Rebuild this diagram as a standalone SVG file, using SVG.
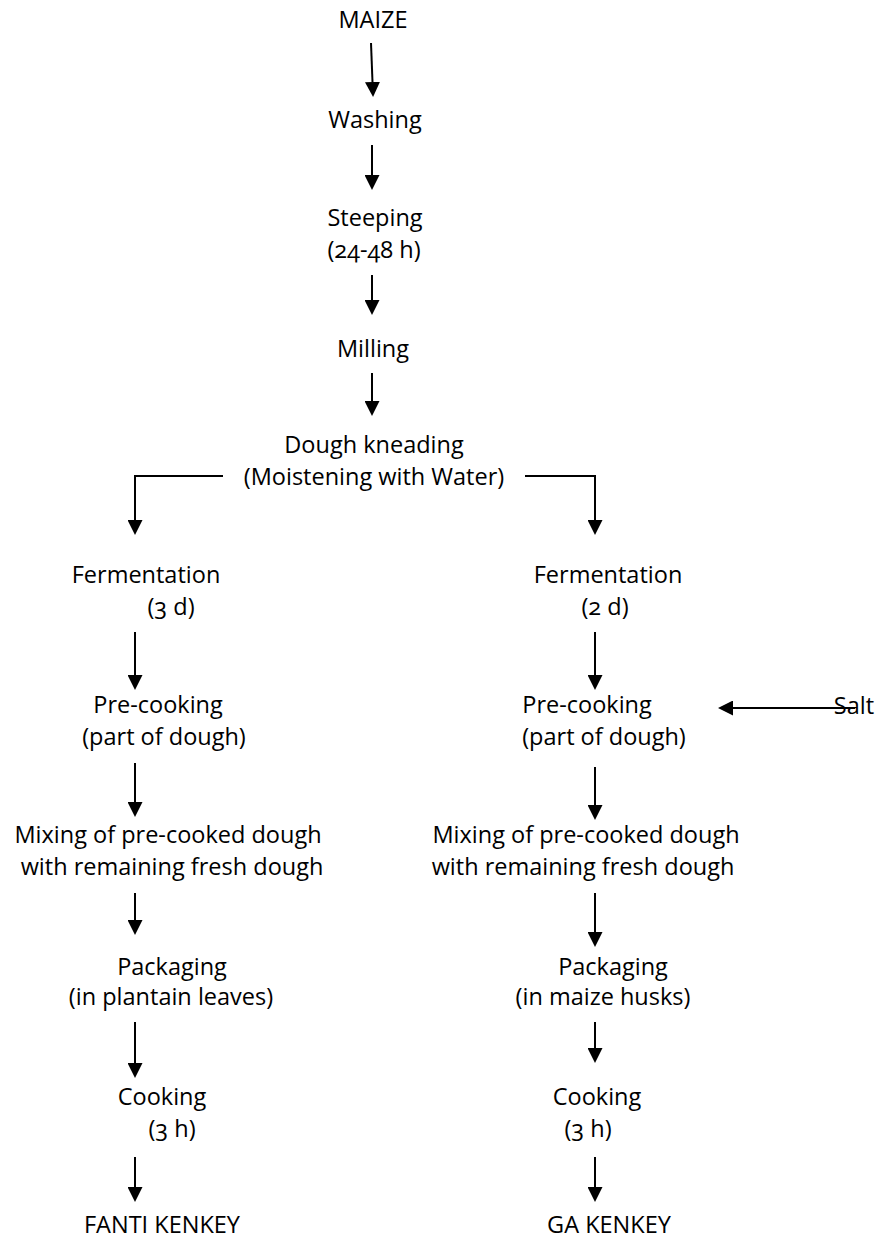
<svg xmlns="http://www.w3.org/2000/svg" width="882" height="1238" viewBox="0 0 882 1238">
<style>
text{font-family:"Open Sans","Noto Sans",sans-serif;font-size:23.5px;fill:#000;text-anchor:middle;font-variant-numeric:oldstyle-nums}
.c{fill:none;stroke:#000;stroke-width:2}
</style>
<defs>
<marker id="ah" viewBox="0 0 15 15" refX="0" refY="7.5" markerWidth="15" markerHeight="15" markerUnits="userSpaceOnUse" orient="auto">
<path d="M0,0 L15,7.5 L0,15 z" fill="#000"/>
</marker>
</defs>
<rect width="882" height="1238" fill="#fff"/>
<g id="connectors">
<path class="c" d="M371,43 L372.5,82" marker-end="url(#ah)"/>
<path class="c" d="M372,145 V175" marker-end="url(#ah)"/>
<path class="c" d="M372,275 V300" marker-end="url(#ah)"/>
<path class="c" d="M372,373 V401" marker-end="url(#ah)"/>
<path class="c" d="M223,476 H135 V520" marker-end="url(#ah)"/>
<path class="c" d="M525,476 H595 V520" marker-end="url(#ah)"/>
<path class="c" d="M135,632 V675" marker-end="url(#ah)"/>
<path class="c" d="M135,763 V802" marker-end="url(#ah)"/>
<path class="c" d="M135,893 V920" marker-end="url(#ah)"/>
<path class="c" d="M135,1022 V1063" marker-end="url(#ah)"/>
<path class="c" d="M135,1157 V1187" marker-end="url(#ah)"/>
<path class="c" d="M595,632 V675" marker-end="url(#ah)"/>
<path class="c" d="M595,767 V805" marker-end="url(#ah)"/>
<path class="c" d="M595,893 V932" marker-end="url(#ah)"/>
<path class="c" d="M595,1022 V1048" marker-end="url(#ah)"/>
<path class="c" d="M595,1157 V1187" marker-end="url(#ah)"/>
<path class="c" d="M855,708 H733" marker-end="url(#ah)"/>
</g>
<g id="maize"><text x="373" y="28">MAIZE</text></g>
<g id="washing"><text x="375" y="128">Washing</text></g>
<g id="steeping"><text x="375" y="226">Steeping</text><text x="374" y="258">(24-48 h)</text></g>
<g id="milling"><text x="373" y="357">Milling</text></g>
<g id="kneading"><text x="374" y="453">Dough kneading</text><text x="374" y="485">(Moistening with Water)</text></g>
<g id="ferm-left"><text x="146" y="583">Fermentation</text><text x="171" y="615">(3 d)</text></g>
<g id="precook-left"><text x="158" y="713">Pre-cooking</text><text x="164" y="745">(part of dough)</text></g>
<g id="mix-left"><text x="168" y="843">Mixing of pre-cooked dough</text><text x="172" y="875">with remaining fresh dough</text></g>
<g id="pack-left"><text x="172" y="975">Packaging</text><text x="171" y="1005">(in plantain leaves)</text></g>
<g id="cook-left"><text x="162" y="1105">Cooking</text><text x="172" y="1137">(3 h)</text></g>
<g id="fanti"><text x="162" y="1233">FANTI KENKEY</text></g>
<g id="ferm-right"><text x="608" y="583">Fermentation</text><text x="605" y="615">(2 d)</text></g>
<g id="precook-right"><text x="587" y="713">Pre-cooking</text><text x="604" y="745">(part of dough)</text></g>
<g id="salt"><text x="854" y="714">Salt</text></g>
<g id="mix-right"><text x="586" y="843">Mixing of pre-cooked dough</text><text x="583" y="875">with remaining fresh dough</text></g>
<g id="pack-right"><text x="613" y="975">Packaging</text><text x="603" y="1005">(in maize husks)</text></g>
<g id="cook-right"><text x="597" y="1105">Cooking</text><text x="588" y="1137">(3 h)</text></g>
<g id="ga"><text x="609" y="1233">GA KENKEY</text></g>
</svg>
